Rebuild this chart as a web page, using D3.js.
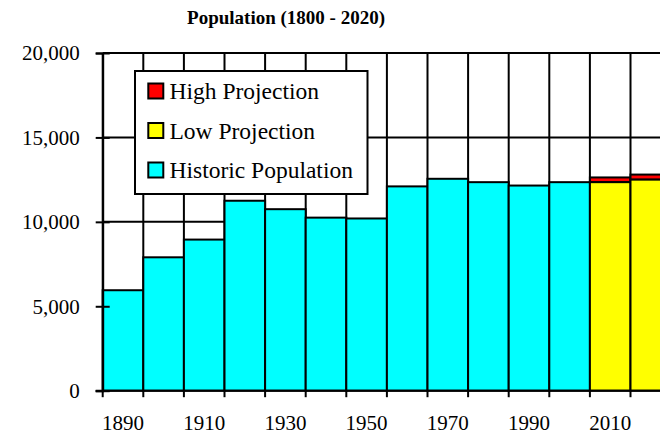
<!DOCTYPE html>
<html>
<head>
<meta charset="utf-8">
<script src="https://cdn.jsdelivr.net/npm/d3@7"></script>
<style>
  body { margin: 0; background: #fff; }
  svg { display: block; font-family: "Liberation Serif", "Times New Roman", serif; }
</style>
</head>
<body>
<svg id="chart" width="660" height="437"></svg>
<script>
// decades on the x axis
var years = [1890, 1900, 1910, 1920, 1930, 1940, 1950, 1960, 1970, 1980, 1990, 2000, 2010, 2020];
var yearLabels = [1890, 1910, 1930, 1950, 1970, 1990, 2010];

// historic population per decade
var historicYears = [1890, 1900, 1910, 1920, 1930, 1940, 1950, 1960, 1970, 1980, 1990, 2000];
var historic = [5950, 7900, 8950, 11250, 10750, 10250, 10200, 12100, 12550, 12350, 12150, 12350];

// projections: low value, plus high projection stacked on top
var projYears = [2010, 2020];
var lowProjection = [12350, 12500];
var highProjection = [280, 300];

var yTicks = [0, 5000, 10000, 15000, 20000];

var legendItems = [
  { label: 'High Projection', color: '#ff0000' },
  { label: 'Low Projection', color: '#ffff00' },
  { label: 'Historic Population', color: '#00ffff' }
];

const plotLeft = 102.7, plotTop = 53, plotBottom = 390.7;
const bandW = 40.6;

var svg = d3.select('#chart');

var x = d3.scaleBand()
  .domain(years)
  .range([plotLeft, plotLeft + bandW * years.length])
  .padding(0);

var y = d3.scaleLinear()
  .domain([0, 20000])
  .range([plotBottom, plotTop]);

var plotRight = x.range()[1];

svg.append('text')
  .attr('x', 286)
  .attr('y', 24)
  .attr('text-anchor', 'middle')
  .attr('font-size', 19)
  .attr('font-weight', 'bold')
  .text('Population (1800 - 2020)');

// grid behind the bars
var grid = svg.append('g').attr('stroke', '#000').attr('stroke-width', 2);
grid.selectAll('.hgrid')
  .data(yTicks.filter(function(d) { return d > 0; }))
  .enter().append('line')
  .attr('x1', plotLeft).attr('x2', plotRight)
  .attr('y1', y).attr('y2', y);

var edges = years.map(function(d) { return x(d); }).concat([plotRight]);
grid.selectAll('.vgrid')
  .data(edges)
  .enter().append('line')
  .attr('x1', function(d) { return d; }).attr('x2', function(d) { return d; })
  .attr('y1', y(20000)).attr('y2', y(0));

// bars
var bars = svg.append('g').attr('stroke', '#000').attr('stroke-width', 2);

bars.selectAll('.hist')
  .data(historic)
  .enter().append('rect')
  .attr('x', function(d, i) { return x(historicYears[i]); })
  .attr('width', x.bandwidth())
  .attr('y', function(d) { return y(d); })
  .attr('height', function(d) { return y(0) - y(d); })
  .attr('fill', '#00ffff');

bars.selectAll('.high')
  .data(highProjection)
  .enter().append('rect')
  .attr('x', function(d, i) { return x(projYears[i]); })
  .attr('width', x.bandwidth())
  .attr('y', function(d, i) { return y(lowProjection[i] + d); })
  .attr('height', function(d, i) { return y(lowProjection[i]) - y(lowProjection[i] + d); })
  .attr('fill', '#ff0000');

bars.selectAll('.low')
  .data(lowProjection)
  .enter().append('rect')
  .attr('x', function(d, i) { return x(projYears[i]); })
  .attr('width', x.bandwidth())
  .attr('y', function(d) { return y(d); })
  .attr('height', function(d) { return y(0) - y(d); })
  .attr('fill', '#ffff00');

// y axis with crossing ticks
var yAxis = svg.append('g')
  .attr('transform', 'translate(' + plotLeft + ',0)')
  .call(d3.axisLeft(y).tickValues(yTicks).tickSize(7).tickPadding(16).tickFormat(d3.format(',')));
yAxis.select('.domain').attr('stroke-width', 2);
yAxis.selectAll('.tick line').attr('stroke-width', 2);
yAxis.selectAll('.tick').append('line')
  .attr('x1', 0).attr('x2', 7)
  .attr('stroke', '#000').attr('stroke-width', 2);
yAxis.selectAll('.tick text')
  .attr('font-size', 21)
  .attr('font-family', '"Liberation Serif", serif')
  .attr('fill', '#000');

// x axis: ticks on the bar edges, labels under every other bar
var xAxis = svg.append('g');
xAxis.append('line')
  .attr('x1', plotLeft - 7).attr('x2', plotRight)
  .attr('y1', y(0)).attr('y2', y(0))
  .attr('stroke', '#000').attr('stroke-width', 2);
xAxis.selectAll('.xtick')
  .data(edges)
  .enter().append('line')
  .attr('x1', function(d) { return d; }).attr('x2', function(d) { return d; })
  .attr('y1', y(0)).attr('y2', y(0) + 6.5)
  .attr('stroke', '#000').attr('stroke-width', 2);
xAxis.selectAll('.xlabel')
  .data(yearLabels)
  .enter().append('text')
  .attr('x', function(d) { return x(d) + x.bandwidth() / 2; })
  .attr('y', 430)
  .attr('text-anchor', 'middle')
  .attr('font-size', 21)
  .text(function(d) { return d; });

// legend
var legend = svg.append('g');
legend.append('rect')
  .attr('x', 135).attr('y', 71)
  .attr('width', 232.5).attr('height', 123)
  .attr('fill', '#fff').attr('stroke', '#000').attr('stroke-width', 2);

var rows = legend.selectAll('.row')
  .data(legendItems)
  .enter().append('g')
  .attr('transform', function(d, i) { return 'translate(0,' + (91 + i * 39.5) + ')'; });
rows.append('rect')
  .attr('x', 148.3).attr('y', -7.5)
  .attr('width', 15).attr('height', 15)
  .attr('fill', function(d) { return d.color; })
  .attr('stroke', '#000').attr('stroke-width', 2);
rows.append('text')
  .attr('x', 169.5).attr('y', 8)
  .attr('font-size', 23.5)
  .text(function(d) { return d.label; });
</script>
</body>
</html>
